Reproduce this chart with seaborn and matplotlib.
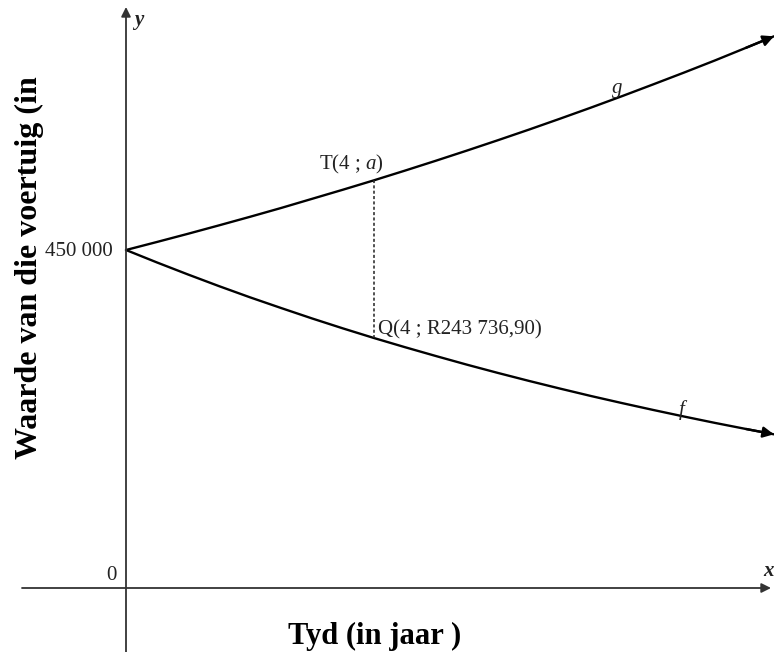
import numpy as np
import pandas as pd
import matplotlib
matplotlib.use("Agg")
import matplotlib.pyplot as plt
import seaborn as sns

# values (y scale fixed by the 0 and 450 000 ticks)
years = [0, 0.5, 1, 1.5, 2, 2.5, 3, 3.5, 4, 4.5, 5, 5.5, 6, 6.5, 7, 7.5,
         8, 8.5, 9, 9.5, 10, 10.45]
g_vals = [450000, 460700, 471600, 482800, 494200, 505900, 518100, 530300,
          542800, 555700, 568900, 582400, 596200, 610300, 624800, 639600,
          654800, 670400, 686200, 702400, 719200, 734500]
f_vals = [450000, 433400, 417400, 401900, 387000, 372800, 358900, 345600,
          332800, 320600, 308800, 297300, 286300, 275700, 265500, 255600,
          246200, 237100, 228300, 219800, 211700, 204600]
y_ticks = [0, 450000]
y_tick_labels = ["0", "450 000"]
t_label = "T(4 ; $\\mathit{a}$)"
q_label = "Q(4 ; R243 736,90)"
x_point = 4

sns.set_theme(style="white")
plt.rcParams['font.family'] = ['Liberation Serif', 'DejaVu Serif']
plt.rcParams['mathtext.fontset'] = 'custom'
plt.rcParams['mathtext.rm'] = 'Liberation Serif'
plt.rcParams['mathtext.it'] = 'Liberation Serif:italic'

df = pd.DataFrame({
    "x": years * 2,
    "y": g_vals + f_vals,
    "curve": ["g"] * len(years) + ["f"] * len(years),
})

fig = plt.figure(figsize=(7.74, 6.52), dpi=100)
ax = fig.add_axes([0, 0, 1, 1])

# pixel mapping of the sketch: x=0 at px 126, 62 px per year; y=0 at px 588, 450000 at px 250
unit = 450000 / 338
ax.set_xlim(-126 / 62, (774 - 126) / 62)
ax.set_ylim(-(652 - 588) * unit, 588 * unit)

sns.lineplot(data=df, x="x", y="y", hue="curve", palette={"g": "black", "f": "black"},
             linewidth=1.7, legend=False, ax=ax, sort=False)

# arrowheads at the ends of the curves
for vals in (g_vals, f_vals):
    ax.annotate("", xy=(years[-1], vals[-1]), xytext=(years[-2], vals[-2]),
                arrowprops=dict(arrowstyle="-|>", mutation_scale=16, color="black",
                                lw=1.7, shrinkA=0, shrinkB=0))

# coordinate axes
ax.annotate("", xy=(0, 581 * unit), xytext=(0, -(652 - 588) * unit),
            arrowprops=dict(arrowstyle="-|>", mutation_scale=14, color="#333333",
                            lw=1.3, shrinkA=0, shrinkB=0))
ax.annotate("", xy=((771 - 126) / 62, 0), xytext=((22 - 126) / 62, 0),
            arrowprops=dict(arrowstyle="-|>", mutation_scale=14, color="#333333",
                            lw=1.3, shrinkA=0, shrinkB=0))

# dotted drop line from T to Q
gi = years.index(x_point)
ax.plot([x_point, x_point], [g_vals[gi], f_vals[gi]], color="#222222",
        lw=1.1, linestyle=(0, (2, 1.5)))

# tick labels
ax.text(-0.21, y_ticks[1] - 2 * unit, y_tick_labels[1], ha="right", va="center",
        fontsize=15, color="#222222")
ax.text(-0.145, 13 * unit, y_tick_labels[0], ha="right", va="center",
        fontsize=15, color="#222222")

# point and curve labels
ax.text(3.11, (588 - 164) * unit, t_label, ha="left", va="center", fontsize=15, color="#222222")
ax.text(4.065, (588 - 330) * unit, q_label, ha="left", va="center", fontsize=15, color="#222222")
ax.text((617 - 126) / 62, (588 - 88) * unit, "g", ha="center", va="center",
        fontsize=15, style="italic", color="#222222")
ax.text((682 - 126) / 62, (588 - 410) * unit, "f", ha="center", va="center",
        fontsize=15, style="italic", color="#222222")
ax.text((139 - 126) / 62, (588 - 20) * unit, "y", ha="center", va="center",
        fontsize=15, style="italic", weight="bold", color="#222222")
ax.text((763 - 126) / 62, (588 - 571) * unit, "x", ha="left", va="center",
        fontsize=15, style="italic", weight="bold", color="#222222")

# axis titles
fig.text(29 / 774, 1 - 268 / 652, "Waarde van die voertuig (in", rotation=90,
         ha="center", va="center", fontsize=23, weight="bold", color="black")
fig.text(375 / 774, 1 - 644 / 652, "Tyd (in jaar )", ha="center", va="baseline",
         fontsize=22, weight="bold", color="black")

ax.set_axis_off()
fig.savefig("out.png", dpi=100)
